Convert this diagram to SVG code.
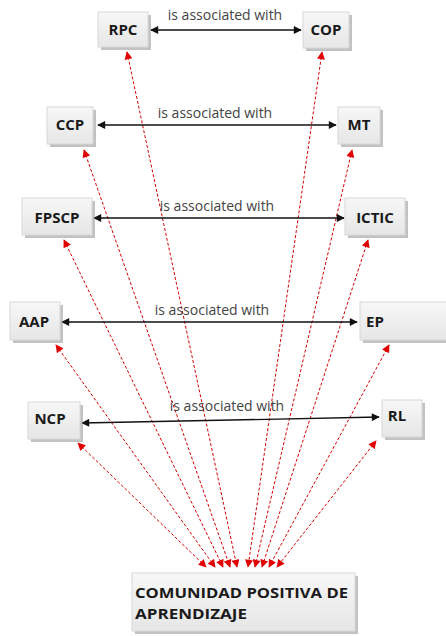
<svg xmlns="http://www.w3.org/2000/svg" width="446" height="636" viewBox="0 0 446 636">
<defs>
<linearGradient id="g" x1="0" y1="0" x2="0" y2="1"><stop offset="0" stop-color="#f7f7f7"/><stop offset="1" stop-color="#e6e6e6"/></linearGradient>
<marker id="ab" viewBox="0 0 10 10" refX="9" refY="5" markerWidth="9" markerHeight="8" markerUnits="userSpaceOnUse" orient="auto-start-reverse"><path d="M0,0 L10,5 L0,10 z" fill="#111"/></marker>
<marker id="ar" viewBox="0 0 10 10" refX="9" refY="5" markerWidth="9" markerHeight="8" markerUnits="userSpaceOnUse" orient="auto-start-reverse"><path d="M0,0 L10,5 L0,10 z" fill="#e00000"/></marker>
</defs>
<style>
.box{fill:url(#g);stroke:#d8d8d8;stroke-width:1}
.sh{fill:#9a9a9a;opacity:0.6}
.t{font-family:"Open Sans","Liberation Sans",sans-serif;font-weight:bold;font-size:15px;fill:#1a1a1a;text-anchor:middle}
.tl{font-family:"Open Sans","Liberation Sans",sans-serif;font-weight:bold;font-size:14px;fill:#1a1a1a}
.lab{font-family:"Open Sans","Liberation Sans",sans-serif;font-size:14px;fill:#444;text-anchor:middle}
.blk{stroke:#111;stroke-width:1.3;fill:none;marker-start:url(#ab);marker-end:url(#ab)}
.red{stroke:#d40000;stroke-width:1;stroke-dasharray:3,2;fill:none;marker-start:url(#ar);marker-end:url(#ar)}
</style>
<rect width="446" height="636" fill="#fff"/>
<g id="connectors">
<line class="red" x1="127" y1="52" x2="237" y2="567"/>
<line class="red" x1="322" y1="52" x2="248" y2="567"/>
<line class="red" x1="84" y1="150" x2="230" y2="567"/>
<line class="red" x1="352" y1="150" x2="255" y2="567"/>
<line class="red" x1="64" y1="240" x2="223" y2="567"/>
<line class="red" x1="368" y1="240" x2="262" y2="567"/>
<line class="red" x1="56" y1="345" x2="215" y2="567"/>
<line class="red" x1="389" y1="345" x2="269" y2="567"/>
<line class="red" x1="78" y1="443" x2="206" y2="567"/>
<line class="red" x1="376" y1="441" x2="277" y2="567"/>
<line class="blk" x1="151" y1="30" x2="301" y2="30"/>
<line class="blk" x1="98" y1="125" x2="336" y2="125"/>
<line class="blk" x1="94" y1="218" x2="344" y2="218"/>
<line class="blk" x1="62" y1="322" x2="357" y2="322"/>
<line class="blk" x1="82" y1="423" x2="379" y2="417"/>
<text class="lab" x="225" y="20">is associated with</text>
<text class="lab" x="215" y="118">is associated with</text>
<text class="lab" x="217" y="211">is associated with</text>
<text class="lab" x="212" y="315">is associated with</text>
<text class="lab" x="227" y="411">is associated with</text>
</g>
<g id="RPC"><rect class="sh" x="101" y="15" width="50" height="35"/><rect class="box" x="98" y="12" width="50" height="35"/><text class="t" x="123" y="35">RPC</text></g>
<g id="COP"><rect class="sh" x="306" y="15" width="46" height="36"/><rect class="box" x="303" y="12" width="46" height="36"/><text class="t" x="326" y="35">COP</text></g>
<g id="CCP"><rect class="sh" x="50" y="110" width="46" height="37"/><rect class="box" x="47" y="107" width="46" height="37"/><text class="t" x="70" y="130">CCP</text></g>
<g id="MT"><rect class="sh" x="341" y="110" width="42" height="37"/><rect class="box" x="338" y="107" width="42" height="37"/><text class="t" x="359" y="130">MT</text></g>
<g id="FPSCP"><rect class="sh" x="25" y="201" width="70" height="37"/><rect class="box" x="22" y="198" width="70" height="37"/><text class="t" x="57" y="223">FPSCP</text></g>
<g id="ICTIC"><rect class="sh" x="348" y="201" width="60" height="37"/><rect class="box" x="345" y="198" width="60" height="37"/><text class="t" x="375" y="223">ICTIC</text></g>
<g id="AAP"><rect class="sh" x="13" y="305" width="50" height="38"/><rect class="box" x="10" y="302" width="50" height="38"/><text class="t" x="34" y="327">AAP</text></g>
<g id="EP"><rect class="sh" x="363" y="305" width="90" height="38"/><rect class="box" x="360" y="302" width="90" height="38"/><text class="t" x="375" y="327">EP</text></g>
<g id="NCP"><rect class="sh" x="31" y="405" width="52" height="37"/><rect class="box" x="28" y="402" width="52" height="37"/><text class="t" x="50" y="424">NCP</text></g>
<g id="RL"><rect class="sh" x="385" y="403" width="40" height="37"/><rect class="box" x="382" y="400" width="40" height="37"/><text class="t" x="397" y="421">RL</text></g>
<g id="CPA"><rect class="sh" x="135" y="576" width="223" height="58"/><rect class="box" x="132" y="573" width="223" height="58"/><text class="tl" x="135" y="598" textLength="213" lengthAdjust="spacingAndGlyphs">COMUNIDAD POSITIVA DE</text><text class="tl" x="135" y="619" textLength="112" lengthAdjust="spacingAndGlyphs">APRENDIZAJE</text></g>
</svg>
